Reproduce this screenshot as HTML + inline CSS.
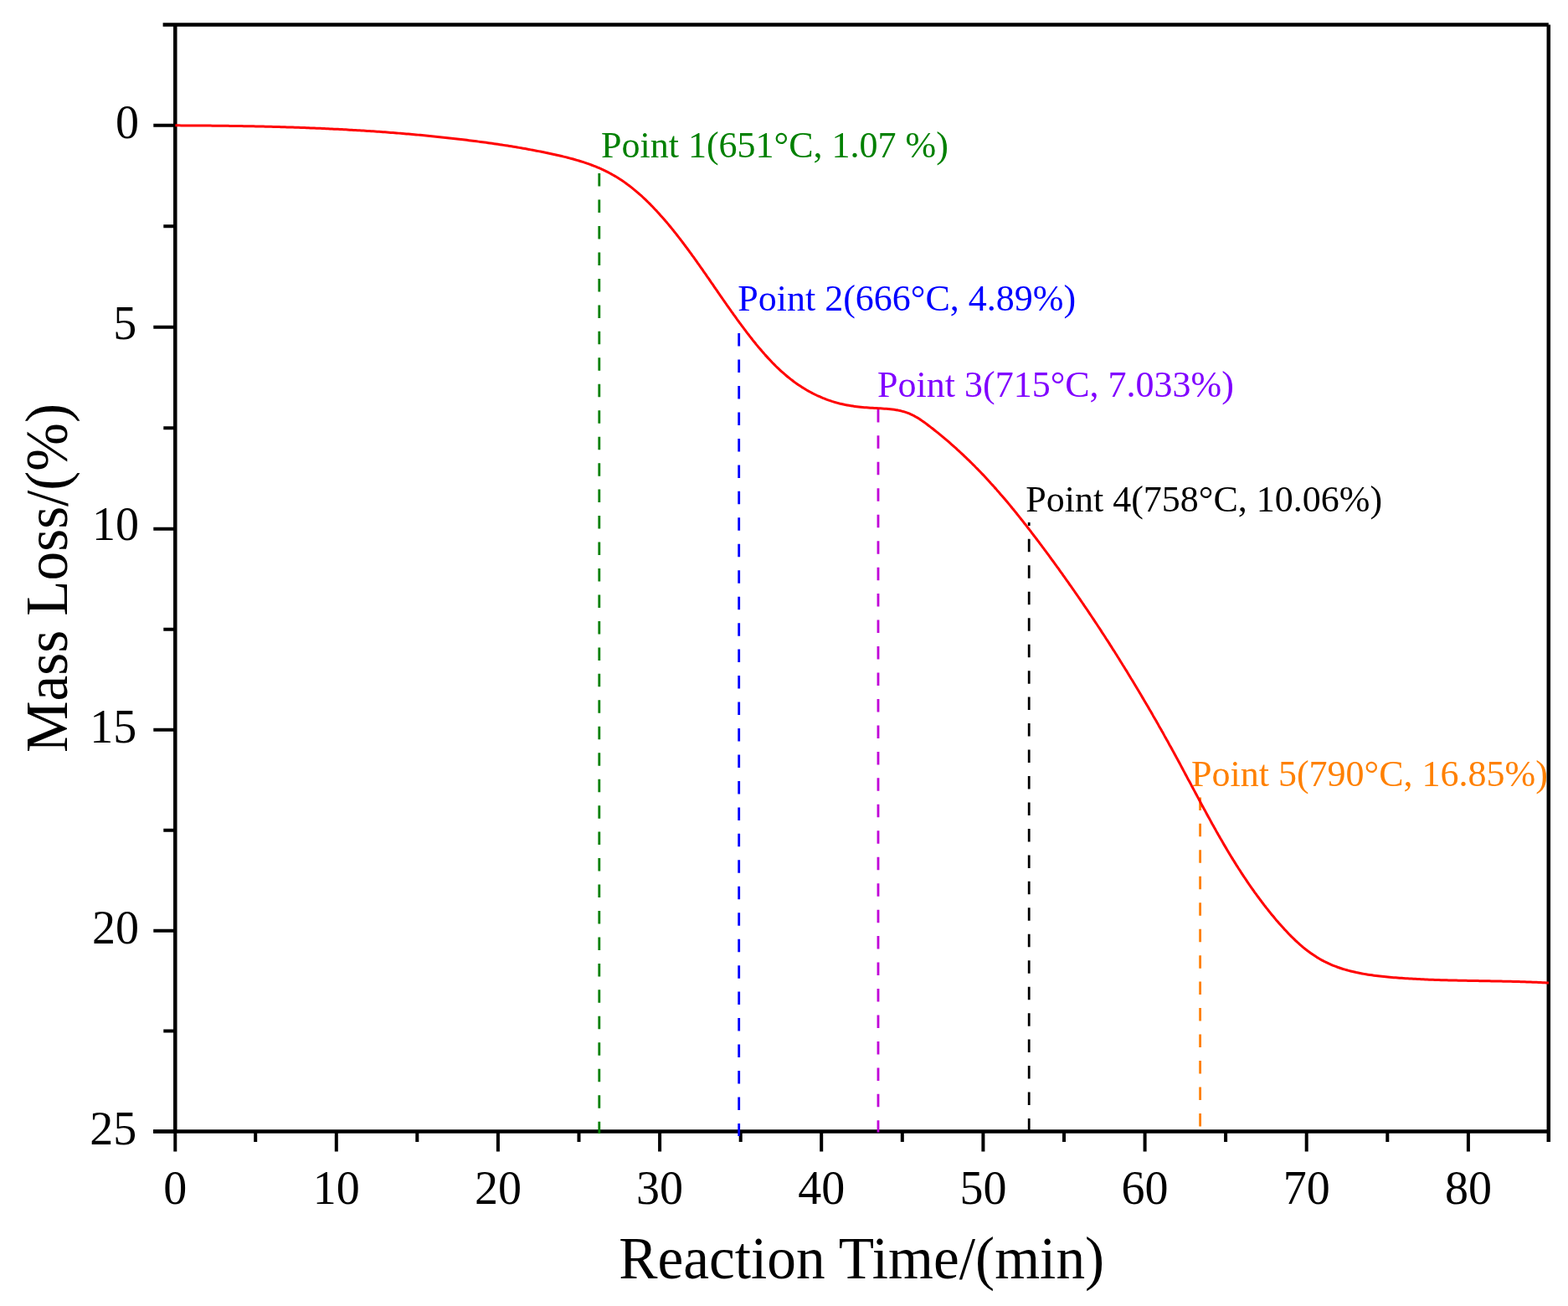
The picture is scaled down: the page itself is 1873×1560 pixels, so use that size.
<!DOCTYPE html>
<html><head><meta charset="utf-8"><title>Mass Loss vs Reaction Time</title>
<style>
html,body{margin:0;padding:0;background:#fff;}
body{width:1873px;height:1560px;overflow:hidden;}
svg{display:block;}
text{font-family:"Liberation Serif","Times New Roman",serif;}
</style></head><body>
<svg width="1873" height="1560" viewBox="0 0 1873 1560">
<rect x="0" y="0" width="1873" height="1560" fill="#fff"/>

<path d="M194.6,29.6 H1849.8 M209.3,29.6 V1351.5 M1849.8,29.6 V1364.0 M183,1351.5 H1849.8" stroke="#000" stroke-width="4.5" fill="none" stroke-linecap="butt"/>
<path d="M209.3,1351.5 V1375.5 M305.2,1351.5 V1364.0 M401.8,1351.5 V1375.5 M498.3,1351.5 V1364.0 M594.9,1351.5 V1375.5 M691.5,1351.5 V1364.0 M788.1,1351.5 V1375.5 M884.7,1351.5 V1364.0 M981.2,1351.5 V1375.5 M1077.8,1351.5 V1364.0 M1174.4,1351.5 V1375.5 M1271.0,1351.5 V1364.0 M1367.6,1351.5 V1375.5 M1464.1,1351.5 V1364.0 M1560.7,1351.5 V1375.5 M1657.3,1351.5 V1364.0 M1753.9,1351.5 V1375.5 M209.3,149.8 H183.3 M209.3,270.3 H195.3 M209.3,390.8 H183.3 M209.3,511.2 H195.3 M209.3,631.7 H183.3 M209.3,751.7 H195.3 M209.3,871.7 H183.3 M209.3,991.7 H195.3 M209.3,1111.7 H183.3 M209.3,1231.6 H195.3 M209.3,1351.5 H183.3" stroke="#000" stroke-width="4" fill="none"/>
<line x1="715.8" y1="207.1" x2="715.8" y2="1354.0" stroke="#008000" stroke-width="2.8" stroke-dasharray="15.5 15.96" stroke-dashoffset="0"/>
<line x1="882.7" y1="398.1" x2="882.7" y2="1357.0" stroke="#0000FF" stroke-width="2.8" stroke-dasharray="15.5 15.96" stroke-dashoffset="0"/>
<line x1="1049.0" y1="488.9" x2="1049.0" y2="1352.5" stroke="#C000D8" stroke-width="2.8" stroke-dasharray="15.5 15.96" stroke-dashoffset="0"/>
<line x1="1229.2" y1="624.0" x2="1229.2" y2="1350.5" stroke="#000000" stroke-width="2.8" stroke-dasharray="15.5 15.96" stroke-dashoffset="11.6"/>
<line x1="1433.6" y1="952.4" x2="1433.6" y2="1346.0" stroke="#FF8000" stroke-width="2.8" stroke-dasharray="15.5 15.96" stroke-dashoffset="0"/>
<path d="M209.4,149.86 L211.7,149.87 L214.0,149.87 L216.4,149.88 L218.7,149.89 L221.0,149.90 L223.4,149.91 L225.7,149.92 L228.1,149.93 L230.4,149.95 L232.7,149.96 L235.1,149.98 L237.4,149.99 L239.7,150.01 L242.1,150.03 L244.4,150.05 L246.7,150.07 L249.1,150.09 L251.4,150.11 L253.8,150.13 L256.1,150.15 L258.4,150.18 L260.8,150.20 L263.1,150.23 L265.5,150.26 L267.8,150.29 L270.1,150.32 L272.5,150.35 L274.8,150.38 L277.2,150.42 L279.5,150.45 L281.8,150.49 L284.2,150.52 L286.5,150.56 L288.9,150.60 L291.2,150.64 L293.6,150.68 L295.9,150.73 L298.2,150.77 L300.6,150.82 L302.9,150.86 L305.3,150.91 L307.6,150.96 L310.0,151.01 L312.3,151.07 L314.6,151.12 L317.0,151.18 L319.3,151.23 L321.7,151.29 L324.0,151.35 L326.4,151.41 L328.7,151.48 L331.1,151.54 L333.4,151.61 L335.7,151.67 L338.1,151.74 L340.4,151.81 L342.8,151.89 L345.1,151.96 L347.5,152.04 L349.8,152.11 L352.1,152.19 L354.5,152.27 L356.8,152.35 L359.2,152.44 L361.5,152.52 L363.9,152.61 L366.2,152.70 L368.6,152.79 L370.9,152.88 L373.2,152.98 L375.6,153.07 L377.9,153.17 L380.3,153.27 L382.6,153.37 L385.0,153.47 L387.3,153.58 L389.7,153.69 L392.0,153.80 L394.3,153.91 L396.7,154.02 L399.0,154.13 L401.4,154.25 L403.7,154.37 L406.1,154.49 L408.4,154.61 L410.7,154.74 L413.1,154.87 L415.4,154.99 L417.8,155.13 L420.1,155.26 L422.4,155.39 L424.8,155.53 L427.1,155.67 L429.5,155.81 L431.8,155.96 L434.2,156.10 L436.5,156.25 L438.8,156.40 L441.2,156.55 L443.5,156.71 L445.9,156.86 L448.2,157.02 L450.5,157.19 L452.9,157.35 L455.2,157.52 L457.5,157.68 L459.9,157.86 L462.2,158.03 L464.6,158.20 L466.9,158.38 L469.2,158.56 L471.6,158.75 L473.9,158.93 L476.2,159.12 L478.6,159.31 L480.9,159.50 L483.2,159.70 L485.6,159.89 L487.9,160.09 L490.2,160.30 L492.6,160.50 L494.9,160.71 L497.2,160.92 L499.6,161.13 L501.9,161.35 L504.2,161.57 L506.6,161.79 L508.9,162.01 L511.2,162.24 L513.6,162.47 L515.9,162.70 L518.2,162.93 L520.5,163.17 L522.9,163.41 L525.2,163.65 L527.5,163.90 L529.9,164.15 L532.2,164.40 L534.5,164.65 L536.8,164.91 L539.2,165.17 L541.5,165.43 L543.8,165.70 L546.1,165.97 L548.4,166.24 L550.8,166.51 L553.1,166.79 L555.4,167.07 L557.7,167.35 L560.1,167.64 L562.4,167.93 L564.7,168.22 L567.0,168.52 L569.3,168.81 L571.6,169.12 L574.0,169.42 L576.3,169.73 L578.6,170.04 L580.9,170.36 L583.2,170.68 L585.5,171.00 L587.9,171.33 L590.2,171.66 L592.5,172.00 L594.8,172.34 L597.1,172.68 L599.4,173.03 L601.7,173.38 L604.0,173.74 L606.4,174.10 L608.7,174.47 L611.0,174.84 L613.3,175.22 L615.6,175.60 L617.9,175.99 L620.2,176.38 L622.5,176.78 L624.8,177.18 L627.2,177.59 L629.5,178.01 L631.8,178.42 L634.1,178.85 L636.4,179.28 L638.7,179.72 L641.0,180.16 L643.3,180.61 L645.6,181.07 L647.9,181.53 L650.3,181.99 L652.6,182.47 L654.9,182.95 L657.2,183.44 L659.5,183.93 L661.8,184.44 L664.1,184.95 L666.4,185.47 L668.7,186.00 L671.0,186.54 L673.3,187.10 L675.6,187.66 L677.9,188.24 L680.2,188.83 L682.5,189.44 L684.7,190.06 L687.0,190.70 L689.3,191.35 L691.5,192.02 L693.7,192.71 L696.0,193.42 L698.2,194.14 L700.4,194.89 L702.6,195.66 L704.8,196.45 L707.0,197.26 L709.2,198.09 L711.4,198.94 L713.5,199.82 L715.6,200.73 L717.8,201.66 L719.9,202.62 L722.0,203.60 L724.0,204.61 L726.1,205.65 L728.2,206.72 L730.2,207.82 L732.2,208.94 L734.2,210.10 L736.2,211.29 L738.2,212.50 L740.1,213.74 L742.1,215.01 L744.0,216.31 L745.9,217.63 L747.8,218.97 L749.6,220.34 L751.5,221.74 L753.3,223.15 L755.2,224.59 L757.0,226.05 L758.8,227.54 L760.6,229.04 L762.4,230.56 L764.1,232.11 L765.9,233.67 L767.6,235.25 L769.3,236.85 L771.0,238.46 L772.7,240.09 L774.4,241.74 L776.1,243.40 L777.7,245.08 L779.4,246.77 L781.0,248.47 L782.6,250.19 L784.3,251.92 L785.9,253.66 L787.5,255.41 L789.0,257.17 L790.6,258.94 L792.2,260.72 L793.7,262.51 L795.2,264.30 L796.8,266.11 L798.3,267.91 L799.8,269.73 L801.3,271.55 L802.8,273.38 L804.3,275.21 L805.7,277.04 L807.2,278.88 L808.7,280.73 L810.1,282.58 L811.5,284.43 L813.0,286.29 L814.4,288.15 L815.8,290.01 L817.2,291.88 L818.6,293.76 L820.0,295.63 L821.4,297.51 L822.8,299.40 L824.2,301.28 L825.6,303.17 L826.9,305.06 L828.3,306.96 L829.7,308.86 L831.0,310.76 L832.4,312.66 L833.7,314.56 L835.1,316.47 L836.4,318.38 L837.8,320.29 L839.1,322.20 L840.4,324.11 L841.8,326.03 L843.1,327.94 L844.4,329.86 L845.8,331.78 L847.1,333.69 L848.4,335.61 L849.7,337.53 L851.1,339.45 L852.4,341.37 L853.7,343.29 L855.0,345.21 L856.4,347.13 L857.7,349.05 L859.0,350.97 L860.3,352.89 L861.7,354.81 L863.0,356.73 L864.3,358.64 L865.7,360.56 L867.0,362.47 L868.3,364.39 L869.7,366.30 L871.0,368.21 L872.4,370.11 L873.7,372.02 L875.1,373.92 L876.4,375.83 L877.8,377.73 L879.2,379.62 L880.5,381.52 L881.9,383.41 L883.3,385.30 L884.7,387.18 L886.1,389.06 L887.5,390.94 L888.9,392.82 L890.3,394.69 L891.7,396.56 L893.1,398.43 L894.6,400.29 L896.0,402.14 L897.5,404.00 L898.9,405.84 L900.4,407.68 L901.9,409.52 L903.3,411.34 L904.8,413.16 L906.3,414.98 L907.9,416.78 L909.4,418.57 L910.9,420.35 L912.5,422.12 L914.0,423.88 L915.6,425.63 L917.2,427.36 L918.8,429.09 L920.4,430.79 L922.0,432.49 L923.6,434.17 L925.3,435.83 L926.9,437.47 L928.6,439.10 L930.3,440.71 L932.0,442.31 L933.7,443.88 L935.5,445.44 L937.2,446.97 L939.0,448.49 L940.8,449.98 L942.6,451.45 L944.4,452.90 L946.3,454.32 L948.1,455.72 L950.0,457.10 L951.9,458.45 L953.8,459.78 L955.8,461.08 L957.7,462.36 L959.7,463.60 L961.7,464.82 L963.7,466.01 L965.7,467.17 L967.8,468.30 L969.9,469.40 L972.0,470.47 L974.1,471.51 L976.2,472.52 L978.4,473.49 L980.6,474.43 L982.7,475.34 L984.9,476.21 L987.1,477.06 L989.3,477.86 L991.6,478.63 L993.8,479.37 L996.1,480.07 L998.3,480.73 L1000.6,481.36 L1002.8,481.95 L1005.1,482.50 L1007.4,483.01 L1009.6,483.49 L1011.9,483.93 L1014.2,484.34 L1016.5,484.73 L1018.8,485.08 L1021.1,485.40 L1023.4,485.70 L1025.7,485.97 L1028.0,486.23 L1030.4,486.46 L1032.7,486.67 L1035.0,486.86 L1037.4,487.03 L1039.8,487.19 L1042.1,487.34 L1044.5,487.48 L1046.9,487.60 L1049.3,487.73 L1051.6,487.87 L1054.0,488.01 L1056.4,488.16 L1058.8,488.34 L1061.1,488.54 L1063.5,488.77 L1065.8,489.04 L1068.2,489.35 L1070.5,489.70 L1072.8,490.10 L1075.0,490.56 L1077.3,491.09 L1079.5,491.68 L1081.7,492.34 L1083.8,493.07 L1086.0,493.89 L1088.0,494.80 L1090.1,495.78 L1092.1,496.83 L1094.1,497.94 L1096.1,499.11 L1098.0,500.34 L1100.0,501.61 L1101.9,502.92 L1103.8,504.27 L1105.7,505.65 L1107.5,507.04 L1109.4,508.46 L1111.3,509.88 L1113.1,511.32 L1115.0,512.76 L1116.8,514.22 L1118.6,515.68 L1120.5,517.15 L1122.3,518.63 L1124.1,520.12 L1125.9,521.62 L1127.7,523.13 L1129.5,524.64 L1131.3,526.16 L1133.1,527.69 L1134.8,529.23 L1136.6,530.78 L1138.4,532.34 L1140.1,533.90 L1141.9,535.47 L1143.6,537.05 L1145.4,538.64 L1147.1,540.23 L1148.8,541.83 L1150.5,543.44 L1152.2,545.05 L1153.9,546.67 L1155.6,548.30 L1157.3,549.94 L1159.0,551.58 L1160.7,553.23 L1162.3,554.88 L1164.0,556.54 L1165.6,558.21 L1167.3,559.88 L1168.9,561.56 L1170.6,563.24 L1172.2,564.93 L1173.8,566.63 L1175.4,568.33 L1177.0,570.04 L1178.6,571.75 L1180.2,573.47 L1181.8,575.19 L1183.3,576.92 L1184.9,578.65 L1186.5,580.39 L1188.0,582.14 L1189.6,583.88 L1191.1,585.64 L1192.7,587.39 L1194.2,589.16 L1195.7,590.92 L1197.3,592.69 L1198.8,594.47 L1200.3,596.25 L1201.8,598.03 L1203.3,599.82 L1204.8,601.61 L1206.3,603.41 L1207.8,605.21 L1209.2,607.01 L1210.7,608.82 L1212.2,610.63 L1213.7,612.44 L1215.1,614.26 L1216.6,616.08 L1218.0,617.90 L1219.5,619.73 L1220.9,621.56 L1222.4,623.39 L1223.8,625.23 L1225.3,627.07 L1226.7,628.91 L1228.1,630.76 L1229.6,632.60 L1231.0,634.45 L1232.4,636.31 L1233.8,638.16 L1235.2,640.02 L1236.7,641.88 L1238.1,643.74 L1239.5,645.60 L1240.9,647.47 L1242.3,649.34 L1243.7,651.20 L1245.1,653.08 L1246.5,654.95 L1247.9,656.82 L1249.3,658.70 L1250.7,660.58 L1252.1,662.46 L1253.5,664.34 L1254.8,666.23 L1256.2,668.11 L1257.6,670.00 L1259.0,671.89 L1260.4,673.79 L1261.7,675.68 L1263.1,677.58 L1264.5,679.47 L1265.8,681.37 L1267.2,683.27 L1268.6,685.18 L1269.9,687.08 L1271.3,688.99 L1272.6,690.90 L1274.0,692.81 L1275.3,694.72 L1276.7,696.63 L1278.0,698.55 L1279.4,700.47 L1280.7,702.39 L1282.1,704.31 L1283.4,706.23 L1284.7,708.16 L1286.1,710.08 L1287.4,712.01 L1288.7,713.94 L1290.1,715.87 L1291.4,717.80 L1292.7,719.74 L1294.0,721.68 L1295.3,723.61 L1296.7,725.55 L1298.0,727.50 L1299.3,729.44 L1300.6,731.38 L1301.9,733.33 L1303.2,735.28 L1304.5,737.23 L1305.8,739.18 L1307.1,741.13 L1308.4,743.09 L1309.7,745.04 L1311.0,747.00 L1312.3,748.96 L1313.6,750.92 L1314.9,752.89 L1316.1,754.85 L1317.4,756.82 L1318.7,758.78 L1320.0,760.75 L1321.2,762.72 L1322.5,764.69 L1323.8,766.67 L1325.1,768.64 L1326.3,770.62 L1327.6,772.60 L1328.8,774.58 L1330.1,776.56 L1331.4,778.54 L1332.6,780.52 L1333.9,782.51 L1335.1,784.50 L1336.4,786.49 L1337.6,788.47 L1338.8,790.47 L1340.1,792.46 L1341.3,794.45 L1342.6,796.45 L1343.8,798.45 L1345.0,800.44 L1346.3,802.44 L1347.5,804.45 L1348.7,806.45 L1349.9,808.45 L1351.1,810.46 L1352.4,812.46 L1353.6,814.47 L1354.8,816.48 L1356.0,818.49 L1357.2,820.50 L1358.4,822.52 L1359.6,824.53 L1360.8,826.55 L1362.0,828.57 L1363.2,830.59 L1364.4,832.61 L1365.6,834.63 L1366.8,836.65 L1368.0,838.67 L1369.2,840.70 L1370.4,842.72 L1371.6,844.75 L1372.7,846.78 L1373.9,848.81 L1375.1,850.84 L1376.3,852.88 L1377.4,854.91 L1378.6,856.94 L1379.8,858.98 L1381.0,861.02 L1382.1,863.06 L1383.3,865.10 L1384.4,867.14 L1385.6,869.18 L1386.8,871.22 L1387.9,873.27 L1389.1,875.31 L1390.2,877.36 L1391.3,879.41 L1392.5,881.46 L1393.6,883.51 L1394.8,885.56 L1395.9,887.61 L1397.0,889.67 L1398.2,891.72 L1399.3,893.78 L1400.4,895.83 L1401.6,897.89 L1402.7,899.95 L1403.8,902.01 L1404.9,904.07 L1406.1,906.13 L1407.2,908.20 L1408.3,910.26 L1409.4,912.32 L1410.5,914.39 L1411.6,916.46 L1412.7,918.52 L1413.8,920.59 L1414.9,922.66 L1416.0,924.73 L1417.1,926.79 L1418.2,928.86 L1419.3,930.93 L1420.5,933.00 L1421.6,935.07 L1422.7,937.13 L1423.8,939.20 L1424.9,941.27 L1426.0,943.34 L1427.1,945.41 L1428.2,947.47 L1429.3,949.54 L1430.4,951.60 L1431.5,953.67 L1432.6,955.73 L1433.7,957.79 L1434.8,959.86 L1435.9,961.92 L1437.0,963.98 L1438.1,966.04 L1439.3,968.09 L1440.4,970.15 L1441.5,972.20 L1442.6,974.26 L1443.7,976.31 L1444.9,978.36 L1446.0,980.41 L1447.1,982.45 L1448.2,984.50 L1449.4,986.54 L1450.5,988.58 L1451.7,990.62 L1452.8,992.66 L1454.0,994.69 L1455.1,996.73 L1456.3,998.76 L1457.4,1000.78 L1458.6,1002.81 L1459.8,1004.83 L1460.9,1006.85 L1462.1,1008.87 L1463.3,1010.88 L1464.5,1012.89 L1465.7,1014.90 L1466.9,1016.91 L1468.1,1018.91 L1469.3,1020.91 L1470.5,1022.90 L1471.7,1024.89 L1472.9,1026.88 L1474.2,1028.87 L1475.4,1030.85 L1476.6,1032.83 L1477.9,1034.80 L1479.1,1036.77 L1480.4,1038.74 L1481.7,1040.70 L1482.9,1042.66 L1484.2,1044.62 L1485.5,1046.57 L1486.8,1048.51 L1488.1,1050.45 L1489.4,1052.39 L1490.7,1054.32 L1492.0,1056.25 L1493.3,1058.18 L1494.7,1060.10 L1496.0,1062.01 L1497.4,1063.92 L1498.7,1065.83 L1500.1,1067.72 L1501.5,1069.62 L1502.9,1071.51 L1504.3,1073.39 L1505.7,1075.27 L1507.1,1077.15 L1508.5,1079.01 L1509.9,1080.88 L1511.4,1082.73 L1512.8,1084.58 L1514.3,1086.43 L1515.7,1088.27 L1517.2,1090.10 L1518.7,1091.93 L1520.2,1093.75 L1521.7,1095.57 L1523.2,1097.38 L1524.7,1099.18 L1526.3,1100.98 L1527.8,1102.77 L1529.4,1104.55 L1531.0,1106.32 L1532.6,1108.09 L1534.1,1109.84 L1535.8,1111.57 L1537.4,1113.30 L1539.0,1115.01 L1540.7,1116.71 L1542.3,1118.38 L1544.0,1120.05 L1545.7,1121.69 L1547.4,1123.31 L1549.1,1124.91 L1550.8,1126.49 L1552.6,1128.05 L1554.4,1129.58 L1556.1,1131.09 L1557.9,1132.57 L1559.7,1134.02 L1561.6,1135.45 L1563.4,1136.84 L1565.3,1138.21 L1567.2,1139.54 L1569.1,1140.85 L1571.0,1142.12 L1572.9,1143.35 L1574.9,1144.55 L1576.9,1145.71 L1578.9,1146.83 L1580.9,1147.92 L1582.9,1148.96 L1585.0,1149.97 L1587.1,1150.94 L1589.2,1151.87 L1591.3,1152.77 L1593.4,1153.63 L1595.6,1154.46 L1597.7,1155.26 L1599.9,1156.02 L1602.1,1156.75 L1604.3,1157.45 L1606.6,1158.12 L1608.8,1158.77 L1611.0,1159.38 L1613.3,1159.97 L1615.6,1160.53 L1617.9,1161.06 L1620.1,1161.57 L1622.5,1162.06 L1624.8,1162.52 L1627.1,1162.96 L1629.4,1163.38 L1631.7,1163.78 L1634.1,1164.16 L1636.4,1164.52 L1638.8,1164.86 L1641.1,1165.18 L1643.5,1165.49 L1645.9,1165.78 L1648.2,1166.06 L1650.6,1166.32 L1653.0,1166.57 L1655.4,1166.80 L1657.7,1167.03 L1660.1,1167.25 L1662.5,1167.45 L1664.8,1167.65 L1667.2,1167.84 L1669.6,1168.02 L1672.0,1168.19 L1674.3,1168.36 L1676.7,1168.52 L1679.0,1168.68 L1681.4,1168.83 L1683.7,1168.97 L1686.1,1169.11 L1688.4,1169.24 L1690.8,1169.37 L1693.1,1169.49 L1695.5,1169.61 L1697.8,1169.73 L1700.1,1169.84 L1702.5,1169.94 L1704.8,1170.04 L1707.1,1170.14 L1709.5,1170.23 L1711.8,1170.32 L1714.1,1170.40 L1716.5,1170.48 L1718.8,1170.56 L1721.1,1170.63 L1723.4,1170.70 L1725.8,1170.77 L1728.1,1170.84 L1730.4,1170.90 L1732.7,1170.96 L1735.0,1171.02 L1737.4,1171.07 L1739.7,1171.12 L1742.0,1171.18 L1744.3,1171.23 L1746.6,1171.27 L1748.9,1171.32 L1751.3,1171.36 L1753.6,1171.41 L1755.9,1171.45 L1758.2,1171.49 L1760.5,1171.53 L1762.9,1171.57 L1765.2,1171.61 L1767.5,1171.65 L1769.8,1171.69 L1772.1,1171.73 L1774.5,1171.77 L1776.8,1171.81 L1779.1,1171.85 L1781.5,1171.89 L1783.8,1171.94 L1786.1,1171.98 L1788.4,1172.02 L1790.8,1172.07 L1793.1,1172.11 L1795.4,1172.16 L1797.8,1172.21 L1800.1,1172.26 L1802.5,1172.31 L1804.8,1172.37 L1807.2,1172.43 L1809.5,1172.49 L1811.9,1172.55 L1814.2,1172.61 L1816.6,1172.68 L1818.9,1172.75 L1821.3,1172.83 L1823.7,1172.90 L1826.0,1172.98 L1828.4,1173.07 L1830.8,1173.16 L1833.2,1173.25 L1835.5,1173.34 L1837.9,1173.44 L1840.3,1173.55 L1842.7,1173.66 L1845.1,1173.77 L1847.5,1173.89 L1849.9,1174.01" stroke="#FF0000" stroke-width="3" fill="none" stroke-linejoin="round"/>
<text x="209.3" y="1438" font-size="56" text-anchor="middle">0</text>
<text x="401.8" y="1438" font-size="56" text-anchor="middle">10</text>
<text x="594.9" y="1438" font-size="56" text-anchor="middle">20</text>
<text x="788.1" y="1438" font-size="56" text-anchor="middle">30</text>
<text x="981.2" y="1438" font-size="56" text-anchor="middle">40</text>
<text x="1174.4" y="1438" font-size="56" text-anchor="middle">50</text>
<text x="1367.6" y="1438" font-size="56" text-anchor="middle">60</text>
<text x="1560.7" y="1438" font-size="56" text-anchor="middle">70</text>
<text x="1753.9" y="1438" font-size="56" text-anchor="middle">80</text>
<text x="166.0" y="164.6" font-size="56" text-anchor="end">0</text>
<text x="163.3" y="404.9" font-size="56" text-anchor="end">5</text>
<text x="166.0" y="645.0" font-size="56" text-anchor="end">10</text>
<text x="163.3" y="886.9" font-size="56" text-anchor="end">15</text>
<text x="166.0" y="1127.0" font-size="56" text-anchor="end">20</text>
<text x="163.3" y="1367.1" font-size="56" text-anchor="end">25</text>
<text x="741.2" y="1526.5" font-size="71" textLength="580" lengthAdjust="spacingAndGlyphs" transform="translate(-2,0)">Reaction Time/(min)</text>
<text transform="translate(80,897) rotate(-90)" x="-2" y="0" font-size="71" textLength="417" lengthAdjust="spacingAndGlyphs">Mass Loss/(%)</text>
<text x="718" y="187.6" font-size="44" fill="#008000">Point 1(651°C, 1.07 %)</text>
<text x="881.3" y="371.3" font-size="44" fill="#0000FF">Point 2(666°C, 4.89%)</text>
<text x="1048.1" y="474.2" font-size="44" fill="#8000FF">Point 3(715°C, 7.033%)</text>
<text x="1225.3" y="611.1" font-size="44" fill="#000000">Point 4(758°C, 10.06%)</text>
<text x="1423" y="938.5" font-size="44" fill="#FF8000">Point 5(790°C, 16.85%)</text>
</svg></body></html>
